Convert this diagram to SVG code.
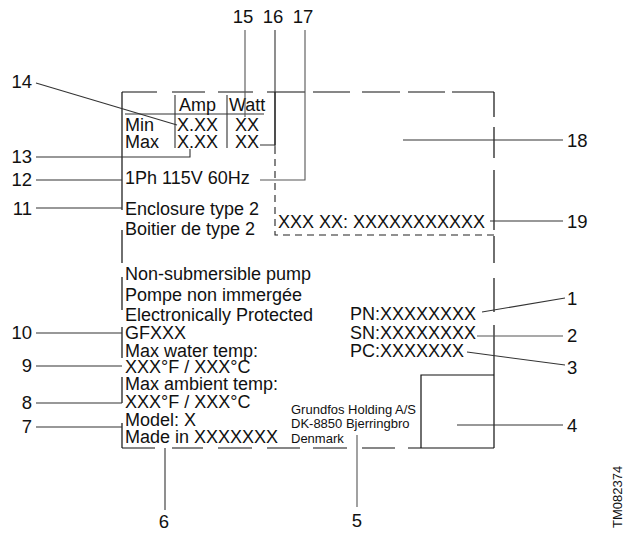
<svg xmlns="http://www.w3.org/2000/svg" width="625" height="533" viewBox="0 0 625 533">
<style>
text{font-family:"Liberation Sans",Arial,sans-serif;fill:#111}
.t{font-size:18px}
.s{font-size:13px}
.n{font-size:18.5px}
.e{text-anchor:end}
.m{text-anchor:middle}
.b{stroke:#111;stroke-width:1.2;fill:none}
.l{stroke:#333;stroke-width:1.1;fill:none}
.g{stroke:#555;stroke-width:1.1;fill:none}
.d{stroke:#222;stroke-width:1.1;fill:none;stroke-dasharray:7 5}
</style>
<rect width="625" height="533" fill="#fff"/>
<g id="label-frame">
<path class="b" d="M122,92V210M122,230V263M122,277V310M122,327V358M122,377V403M122,423V448"/>
<path class="b" d="M122,92H157M172,92H205M218,92H253M267,92H305M313,92H350M362,92H400M408,92H445M452,92H494"/>
<path class="b" d="M122,448H155M172,448H203M218,448H252M267,448H300M313,448H347M362,448H395M408,448H494"/>
<path class="b" d="M494,92V117M494,127V158M494,170V230M494,236V263M494,278V312M494,325V448"/>
</g>
<g id="inner-box">
<path class="b" d="M275,92V145"/>
<path class="d" d="M275,147V235H494"/>
</g>
<g id="qr-box">
<path class="b" d="M421,448V375H494"/>
</g>
<g id="table">
<path class="l" d="M175,95V148M227,95V148M125,114H264"/>
<text class="t" x="179" y="111">Amp</text>
<text class="t" x="229" y="111">Watt</text>
<text class="t" x="125" y="131">Min</text>
<text class="t" x="125" y="148">Max</text>
<text class="t" x="177" y="131">X.XX</text>
<text class="t" x="177" y="148">X.XX</text>
<text class="t" x="235" y="131">XX</text>
<text class="t" x="235" y="148">XX</text>
</g>
<g id="texts">
<text class="t" x="125" y="184">1Ph 115V 60Hz</text>
<text class="t" x="125" y="215">Enclosure type 2</text>
<text class="t" x="125" y="235">Boitier de type 2</text>
<text class="t" x="278" y="228">XXX XX: XXXXXXXXXXX</text>
<text class="t" x="125" y="280">Non-submersible pump</text>
<text class="t" x="125" y="301">Pompe non immergée</text>
<text class="t" x="125" y="321">Electronically Protected</text>
<text class="t" x="125" y="339">GFXXX</text>
<text class="t" x="125" y="357">Max water temp:</text>
<text class="t" x="125" y="373">XXX°F / XXX°C</text>
<text class="t" x="125" y="390">Max ambient temp:</text>
<text class="t" x="125" y="408">XXX°F / XXX°C</text>
<text class="t" x="125" y="426">Model: X</text>
<text class="t" x="125" y="443">Made in XXXXXXX</text>
<text class="t" x="350" y="320">PN:XXXXXXXX</text>
<text class="t" x="350" y="339">SN:XXXXXXXX</text>
<text class="t" x="350" y="357">PC:XXXXXXX</text>
<text class="s" x="291" y="414">Grundfos Holding A/S</text>
<text class="s" x="291" y="428">DK-8850 Bjerringbro</text>
<text class="s" x="291" y="443">Denmark</text>
</g>
<g id="connectors">
<path class="l" d="M36,83L177,125"/>
<path class="l" d="M36,157H190V149"/>
<path class="l" d="M36,180H122"/>
<path class="l" d="M36,208H122"/>
<path class="l" d="M36,333H122"/>
<path class="l" d="M36,366H122"/>
<path class="l" d="M36,403H122"/>
<path class="l" d="M36,427H122"/>
<path class="g" d="M245,30V117"/>
<path class="l" d="M275,30V147M260,145H275"/>
<path class="g" d="M305,30V180H260"/>
<path class="l" d="M403,140H563"/>
<path class="l" d="M490,221H563"/>
<path class="l" d="M482,312L565,298"/>
<path class="g" d="M477,336H563"/>
<path class="l" d="M467,352L565,365"/>
<path class="l" d="M457,425H563"/>
<path class="g" d="M357,435V507"/>
<path class="l" d="M165,448V510"/>
</g>
<g id="labels">
<text class="n m" x="243" y="23">15</text>
<text class="n m" x="273" y="23">16</text>
<text class="n m" x="303" y="23">17</text>
<text class="n e" x="32" y="88">14</text>
<text class="n e" x="32" y="163">13</text>
<text class="n e" x="32" y="186">12</text>
<text class="n e" x="32" y="215">11</text>
<text class="n e" x="32" y="339">10</text>
<text class="n e" x="32" y="372">9</text>
<text class="n e" x="32" y="409">8</text>
<text class="n e" x="32" y="433">7</text>
<text class="n m" x="164" y="528">6</text>
<text class="n m" x="357" y="527">5</text>
<text class="n" x="567" y="432">4</text>
<text class="n" x="567" y="374">3</text>
<text class="n" x="567" y="342">2</text>
<text class="n" x="567" y="305">1</text>
<text class="n" x="567" y="147">18</text>
<text class="n" x="567" y="228">19</text>
<text class="s" transform="translate(622,528) rotate(-90)">TM082374</text>
</g>
</svg>
